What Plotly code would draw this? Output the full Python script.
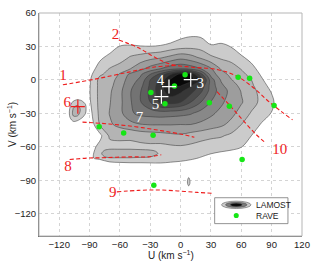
import plotly.graph_objects as go

# ---------------- data ----------------
# LAMOST density, expressed in contour-level units (level k boundary at z = k)
grid_u = [-110, -100, -90, -80, -70, -60, -50, -40, -30, -20, -10, 0, 10, 20, 30, 40, 50, 60, 70, 80, 90, 100, 110]
grid_v = [-90, -80, -70, -60, -50, -40, -30, -20, -10, -5, 0, 5, 10, 20, 30, 40, 50]
density = [
    [0]*23,
    [0, 0, 0, 0, 0.1, 0.1, 0.2, 0.2, 0.3, 0.4, 0.35, 0.3, 0.2, 0, 0, 0, 0, 0, 0, 0, 0, 0, 0],
    [0, 0, 0.9, 1.15, 1.5, 1.6, 1.6, 1.6, 1.55, 1.5, 1.4, 1.3, 1.15, 0.95, 0.7, 0.5, 0.3, 0, 0, 0, 0, 0, 0],
    [0, 0, 0.5, 1.3, 1.6, 1.7, 1.6, 1.75, 1.8, 1.75, 1.85, 1.9, 1.8, 1.6, 1.5, 1.4, 1.3, 1.05, 0.3, 0, 0, 0, 0],
    [0, 0, 0, 0.7, 2.2, 2.25, 2.3, 2.4, 2.5, 2.6, 2.75, 2.85, 2.6, 2.4, 2.2, 2.1, 1.8, 1.5, 1.0, 0, 0, 0, 0],
    [0, 0, 0.2, 2.0, 2.85, 3.3, 3.6, 3.95, 4.05, 4.05, 4.05, 4.0, 4.0, 3.8, 3.5, 3.2, 2.7, 2.0, 1.6, 0.9, 0, 0, 0],
    [0, 0, 0.6, 2.25, 3.05, 3.7, 4.8, 5.3, 5.4, 5.5, 5.4, 5.3, 5.1, 4.6, 4.2, 3.7, 3.3, 2.6, 1.9, 1.5, 0.95, 0, 0],
    [0, 0, 0.85, 2.3, 2.95, 3.75, 4.85, 5.9, 7.0, 8.2, 8.4, 8.0, 7.0, 6.0, 4.95, 4.2, 3.5, 3.1, 2.4, 1.75, 1.3, 0, 0],
    [0, 0, 0.95, 2.3, 2.85, 3.75, 4.9, 5.9, 7.3, 8.6, 9.6, 9.2, 8.4, 7.2, 5.6, 4.5, 3.7, 2.95, 2.3, 1.7, 0.9, 0, 0],
    [0, 0, 0.9, 2.3, 2.7, 3.6, 4.7, 5.6, 7.2, 8.6, 10.0, 10.1, 9.2, 7.8, 5.6, 4.2, 3.4, 2.75, 2.15, 1.45, 0.6, 0, 0],
    [0, 0, 0.85, 2.3, 2.6, 3.4, 4.5, 5.2, 7.0, 8.2, 10.2, 10.8, 10.4, 8.8, 5.5, 3.9, 3.05, 2.5, 2.0, 1.15, 0.3, 0, 0],
    [0, 0, 0.7, 1.85, 2.3, 3.1, 4.2, 4.8, 6.0, 7.3, 8.9, 10.4, 10.1, 7.4, 4.6, 3.4, 2.75, 2.25, 1.7, 0.85, 0.1, 0, 0],
    [0, 0, 0.5, 1.4, 2.05, 2.5, 2.95, 3.7, 4.4, 5.0, 5.6, 5.9, 5.6, 5.0, 4.1, 2.9, 2.4, 1.95, 1.4, 0.5, 0, 0, 0],
    [0, 0, 0, 0.8, 1.3, 1.5, 2.1, 2.4, 2.7, 2.9, 3.3, 3.7, 3.4, 2.85, 2.2, 1.85, 1.7, 1.2, 0.6, 0, 0, 0, 0],
    [0, 0, 0, 0, 0.5, 1.05, 1.15, 1.05, 1.02, 1.1, 1.4, 1.6, 1.7, 1.6, 1.15, 1.35, 0.95, 0.3, 0, 0, 0, 0, 0],
    [0, 0, 0, 0, 0, 0, 0, 0, 0, 0, 0.1, 0.7, 0.9, 0.85, 0.2, 0.1, 0, 0, 0, 0, 0, 0, 0],
    [0]*23,
]

# lower-left elongated feature (second level)
strip_u = [-85, -80, -75, -70, -60, -50, -40, -30, -25, -20, -15]
strip_v = [-73, -69.5, -66, -62.5, -59]
strip_z = [
    [1.5]*11,
    [1.5, 1.6, 1.95, 2.05, 2.05, 2.05, 2.0, 1.95, 1.8, 1.6, 1.5],
    [1.5, 1.8, 2.3, 2.5, 2.6, 2.6, 2.5, 2.35, 2.15, 1.85, 1.5],
    [1.5, 1.6, 1.95, 2.05, 2.05, 2.05, 2.0, 1.95, 1.9, 1.7, 1.5],
    [1.5]*11,
]

# isolated clump near group 6
blob_u = [-114, -110, -106, -102, -98, -94, -90]
blob_v = [-42, -38, -34, -30, -26, -22, -18, -14]
blob_z = [
    [0, 0, 0, 0, 0, 0, 0],
    [0, 0.3, 0.8, 0.6, 0.2, 0, 0],
    [0, 0.8, 1.8, 1.7, 1.1, 0.5, 0],
    [0, 1.0, 2.3, 2.4, 1.6, 1.0, 0],
    [0, 0.9, 2.1, 2.4, 1.8, 1.15, 0],
    [0, 0.6, 1.6, 1.9, 1.6, 1.0, 0],
    [0, 0.2, 0.8, 1.1, 0.9, 0.5, 0],
    [0, 0, 0, 0.1, 0.2, 0, 0],
]

# tiny clump near (8, -91)
tiny_u = [4, 6, 8, 10, 12]
tiny_v = [-99, -96, -93, -90, -87, -84]
tiny_z = [
    [0, 0, 0, 0, 0],
    [0, 0.3, 0.8, 0.3, 0],
    [0, 0.7, 1.4, 0.7, 0],
    [0, 0.7, 1.4, 0.7, 0],
    [0, 0.3, 0.9, 0.3, 0],
    [0, 0, 0, 0, 0],
]

# RAVE groups (green dots)
rave_u = [-29.4, -15.5, -6.1, -80.5, -56.3, -27.2, 4.4, 28.4, 48.2, 56.9, 68.2, 92.4, 60.8, -26.5]
rave_v = [-11.4, -21.4, -5.5, -42.0, -47.6, -49.6, 4.6, -20.5, -23.6, 2.4, 1.5, -23.0, -71.4, -94.4]

# dashed red features
line1_u = [-116.4, -83.4, -51.4, -27.2, -2.9]
line1_v = [-4.4, 0.9, 7.0, 11.4, 13.1]
line2_u = [-61.1, -41.7, -25.2, -9.7, 11.6, 34.0, 53.3, 70.8, 89.2, 110.6]
line2_v = [35.8, 28.8, 20.1, 14.0, 11.4, 9.6, 4.4, -6.1, -21.0, -35.8]
line7_u = [-97.0, -70.8, -44.6, -19.4, 1.9, 13.6]
line7_v = [-37.9, -39.5, -42.0, -45.5, -48.9, -51.5]
line8_u = [-109.7, -90.3, -80.8, -48.8, -32.0, -19.1]
line8_v = [-71.4, -70.0, -69.9, -69.0, -69.0, -67.2]
line9_u = [-63.0, -41.7, -22.3, -2.9, 16.5, 32.0]
line9_v = [-100.4, -99.1, -98.7, -99.6, -100.9, -101.7]
line10_u = [35.9, 48.5, 62.1, 74.7, 84.4]
line10_v = [-10.5, -22.7, -36.7, -49.0, -56.8]

# line labels (red)
red_lab_text = ["1", "2", "6", "8", "9", "10"]
red_lab_u = [-116.2, -64.3, -112.0, -111.3, -67.2, 98.0]
red_lab_v = [3.2, 40.0, -21.0, -78.7, -101.3, -63.2]

# group centres
white_plus_u = [10.0, -11.5, -19.0]
white_plus_v = [0.2, -6.0, -15.0]
red_plus_u = [-101.6]
red_plus_v = [-24.0]
white_lab_text = ["3", "4", "5", "7"]
white_lab_u = [19.4, -20.0, -24.9, -40.7]
white_lab_v = [-4.2, -1.6, -23.0, -34.8]

# axes
x_ticks = [-120, -90, -60, -30, 0, 30, 60, 90, 120]
y_ticks = [-120, -90, -60, -30, 0, 30, 60]
x_range = [-140, 120]
y_range = [-140, 60]

# ---------------- styling ----------------
level_colors = ["rgba(255,255,255,0)", "#cbcbcb", "#b4b4b4", "#9d9d9d", "#888888",
                "#737373", "#5f5f5f", "#4b4b4b", "#373737", "#222222", "#080808"]
cscale = [[i / 10, c] for i, c in enumerate(level_colors)]
strip_scale = [[0, "rgba(255,255,255,0)"], [0.5, level_colors[2]], [1, level_colors[2]]]
RED = "#ee1c1c"
GREEN = "#16e616"

fig = go.Figure()

def add_contour(u, v, z, scale, start, end):
    fig.add_trace(go.Contour(
        x=u, y=v, z=z, colorscale=scale, showscale=False, autocontour=False,
        contours=dict(start=start, end=end, size=1, coloring="fill"),
        line=dict(color="rgba(55,55,55,0.9)", width=0.6, smoothing=1.0),
        hoverinfo="skip"))

add_contour(grid_u, grid_v, density, cscale, 1, 10)
add_contour(strip_u, strip_v, strip_z, strip_scale, 2, 3)
add_contour(blob_u, blob_v, blob_z, cscale, 1, 10)
add_contour(tiny_u, tiny_v, tiny_z, cscale, 1, 10)

for lu, lv in [(line1_u, line1_v), (line2_u, line2_v), (line7_u, line7_v),
               (line8_u, line8_v), (line9_u, line9_v), (line10_u, line10_v)]:
    fig.add_trace(go.Scatter(x=lu, y=lv, mode="lines", line=dict(color=RED, width=1.1, dash="4px,2.5px", shape="spline"),
                             hoverinfo="skip", showlegend=False))

fig.add_trace(go.Scatter(x=rave_u, y=rave_v, mode="markers",
                         marker=dict(color=GREEN, size=5.5, line=dict(width=0)), showlegend=False))

fig.add_trace(go.Scatter(x=white_plus_u, y=white_plus_v, mode="markers",
                         marker=dict(symbol="cross-thin", size=10, line=dict(color="white", width=1.2)),
                         showlegend=False))
fig.add_trace(go.Scatter(x=red_plus_u, y=red_plus_v, mode="markers",
                         marker=dict(symbol="cross-thin", size=10, line=dict(color=RED, width=1.2)),
                         showlegend=False))

fig.add_trace(go.Scatter(x=red_lab_u, y=red_lab_v, mode="text", text=red_lab_text,
                         textfont=dict(family="Liberation Serif, Times New Roman, serif", size=15, color=RED),
                         showlegend=False))
fig.add_trace(go.Scatter(x=white_lab_u, y=white_lab_v, mode="text", text=white_lab_text,
                         textfont=dict(family="Liberation Serif, Times New Roman, serif", size=15, color="white"),
                         showlegend=False))

# ---------------- legend (manual) ----------------
def px2paper(px, py):
    return (px - 39) / 268, (236 - py) / 229

shapes = [dict(type="rect", xref="paper", yref="paper", x0=0, y0=0, x1=1, y1=1,
               line=dict(color="#b5b5b5", width=1), fillcolor="rgba(0,0,0,0)")]
bx0, by0 = px2paper(218, 223.3)
bx1, by1 = px2paper(292.7, 196.7)
shapes.append(dict(type="rect", xref="paper", yref="paper", x0=bx0, y0=by0, x1=bx1, y1=by1,
                   line=dict(color="#777777", width=0.8), fillcolor="white"))
cx, cy = px2paper(240, 204)
for hw, hh, col in [(15, 3.8, level_colors[1]), (11, 2.6, "#7a7a7a"), (6, 1.6, "#0a0a0a")]:
    shapes.append(dict(type="circle", xref="paper", yref="paper",
                       x0=cx - hw / 268, x1=cx + hw / 268, y0=cy - hh / 229, y1=cy + hh / 229,
                       line=dict(color="#444444", width=0.5), fillcolor=col))
rx, ry = px2paper(240, 215)
shapes.append(dict(type="circle", xref="paper", yref="paper",
                   x0=rx - 2.6 / 268, x1=rx + 2.6 / 268, y0=ry - 2.6 / 229, y1=ry + 2.6 / 229,
                   line=dict(width=0), fillcolor=GREEN))
tx, ty1 = px2paper(258.5, 204)
_, ty2 = px2paper(258.5, 215)
font_s = "Liberation Sans, Arial, Helvetica, sans-serif"
annotations = [
    dict(text="LAMOST", x=tx, y=ty1, xref="paper", yref="paper", xanchor="left", yanchor="middle",
         showarrow=False, font=dict(family=font_s, size=8.5, color="#222222")),
    dict(text="RAVE", x=tx, y=ty2, xref="paper", yref="paper", xanchor="left", yanchor="middle",
         showarrow=False, font=dict(family=font_s, size=8.5, color="#222222")),
    dict(text="U (km s<sup>\u22121</sup>)", x=0.5, y=(236 - 256) / 229, xref="paper", yref="paper",
         xanchor="center", yanchor="middle", showarrow=False, font=dict(family=font_s, size=10, color="#222222")),
    dict(text="V (km s<sup>\u22121</sup>)", x=(11 - 39) / 268, y=0.5, xref="paper", yref="paper",
         xanchor="center", yanchor="middle", textangle=-90, showarrow=False,
         font=dict(family=font_s, size=10, color="#222222")),
]

axis_common = dict(showgrid=True, gridcolor="#d4d4d4", griddash="dot", gridwidth=1,
                   zeroline=False, showline=True, linecolor="#707070", linewidth=1, mirror=False,
                   ticks="", tickfont=dict(family=font_s, size=9.5, color="#222222"))

fig.update_layout(
    width=317, height=263, margin=dict(l=39, r=10, t=7, b=27),
    paper_bgcolor="white", plot_bgcolor="white", showlegend=False,
    xaxis=dict(range=x_range, tickvals=x_ticks, ticktext=[str(t).replace("-", "\u2212") for t in x_ticks], **axis_common),
    yaxis=dict(range=y_range, tickvals=y_ticks, ticktext=[str(t).replace("-", "\u2212") for t in y_ticks], **axis_common),
    shapes=shapes, annotations=annotations,
)

fig.write_html("out.html", config={"displayModeBar": False},
               post_script="document.body.style.margin='0';document.body.style.padding='0';document.body.style.overflow='hidden';")
